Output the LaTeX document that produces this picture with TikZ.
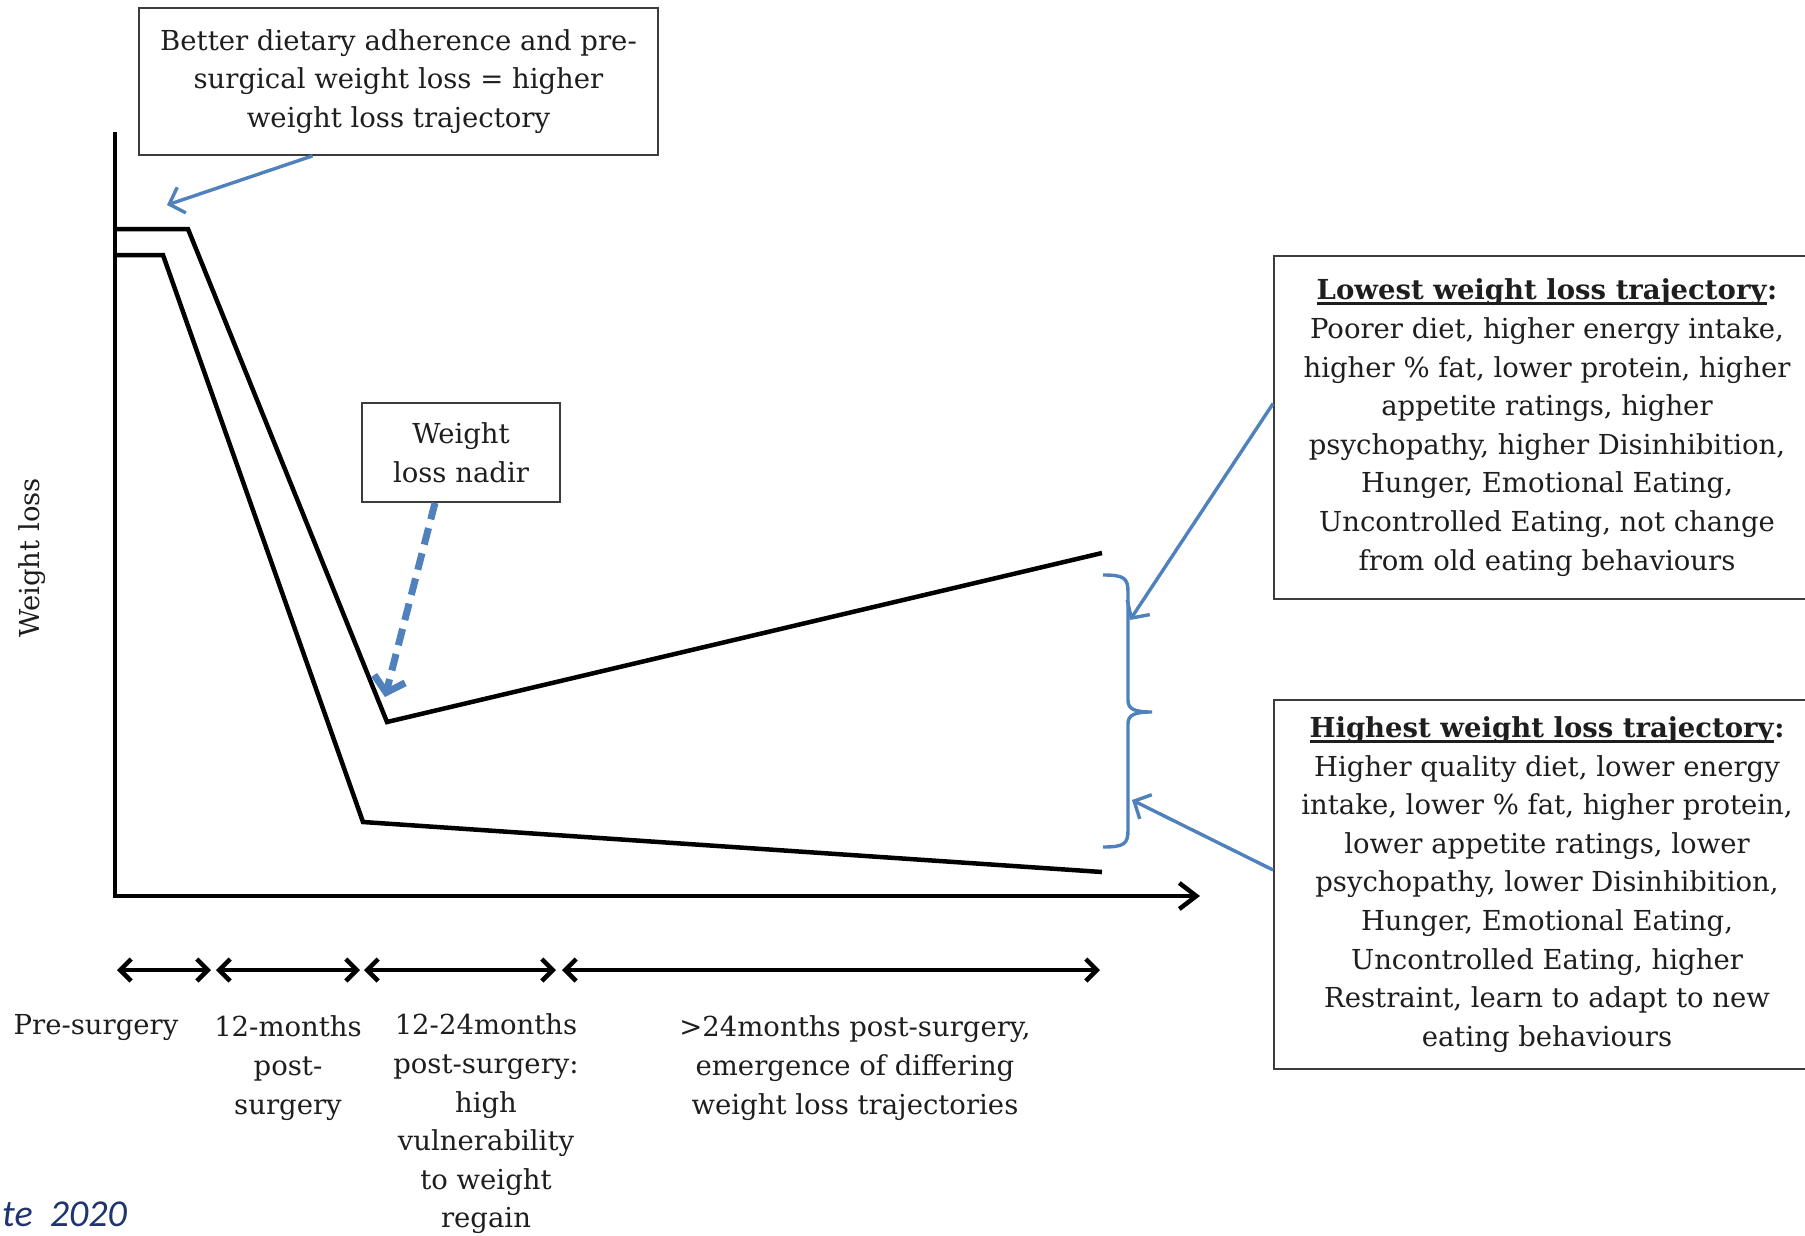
\documentclass[tikz,border=0pt]{standalone}
\usepackage{fontspec}
\setmainfont{DejaVu Serif}
\newfontfamily\citefont{Carlito}
\usetikzlibrary{arrows.meta,calc}
\definecolor{ablue}{HTML}{4F81BD}
\definecolor{txt}{HTML}{1E1E1E}
\definecolor{boxc}{HTML}{3C3C3C}
\definecolor{citec}{HTML}{1F3470}
\newsavebox{\hulbox}
\newcommand{\hul}[1]{\sbox{\hulbox}{#1}\rlap{\rule[-5pt]{\wd\hulbox}{2.4pt}}\usebox{\hulbox}}
\begin{document}
\begin{tikzpicture}[x=1pt,y=-1pt,
  lbl/.style={font=\fontsize{27.5}{38.6}\selectfont, align=center, inner sep=0pt, text=txt},
  tbox/.style={lbl, draw=boxc, line width=1.8pt},
  curve/.style={line width=4.5pt, line join=miter, black},
  barrow/.style={draw=ablue, line width=3.4pt, -{Straight Barb[length=13pt,width=27pt,line width=3.4pt]}},
  darrow/.style={line width=4pt, black, {Straight Barb[length=11pt,width=22pt,line width=4.5pt]}-{Straight Barb[length=11pt,width=22pt,line width=4.5pt]}}]
\useasboundingbox (0,0) rectangle (1805,1235);
\clip (0,0) rectangle (1805,1235);

% boxes
\node[tbox, minimum width=519pt, minimum height=147pt] (topbox) at (398.5,81.5)
  {Better dietary adherence and pre-\\surgical weight loss = higher\\weight loss trajectory};
\node[tbox, minimum width=198pt, minimum height=99pt] (nadir) at (461,452.5)
  {Weight\\loss nadir};
\node[tbox, minimum width=546pt, minimum height=343pt] (lowbox) at (1547,427.5)
  {\hul{\textbf{Lowest weight loss trajectory}}\textbf{:}\\Poorer diet, higher energy intake,\\higher \% fat, lower protein, higher\\appetite ratings, higher\\psychopathy, higher Disinhibition,\\Hunger, Emotional Eating,\\Uncontrolled Eating, not change\\from old eating behaviours};
\node[tbox, minimum width=546pt, minimum height=369pt] (highbox) at (1547,884.5)
  {\hul{\textbf{Highest weight loss trajectory}}\textbf{:}\\Higher quality diet, lower energy\\intake, lower \% fat, higher protein,\\lower appetite ratings, lower\\psychopathy, lower Disinhibition,\\Hunger, Emotional Eating,\\Uncontrolled Eating, higher\\Restraint, learn to adapt to new\\eating behaviours};

% axes
\coordinate (ytop) at (115,132);
\coordinate (orig) at (115,896);
\coordinate (xend) at (1200,896);
\draw[line width=4.5pt, line join=miter, -{Straight Barb[length=17pt,width=26pt,line width=4.5pt]}] (ytop) -- (orig) -- (xend);

% trajectories
\coordinate (u0) at (115,229);
\coordinate (u1) at (188,229);
\coordinate (u2) at (387,722);
\coordinate (u3) at (1102,553);
\coordinate (l0) at (115,255);
\coordinate (l1) at (163,255);
\coordinate (l2) at (363,822);
\coordinate (l3) at (1102,872);
\draw[curve] (u0) -- (u1) -- (u2) -- (u3);
\draw[curve] (l0) -- (l1) -- (l2) -- (l3);

% blue arrows
\coordinate (a1) at (167,205);
\draw[barrow] ([xshift=-86pt]topbox.south) -- (a1);
\coordinate (a2) at (385,697);
\draw[draw=ablue, line width=7pt, dash pattern=on 17pt off 9pt, -{Straight Barb[length=14pt,width=32pt,line width=7pt]}] ([xshift=-26pt]nadir.south) -- (a2);

% brace
\coordinate (bt) at (1103,575);
\coordinate (bm) at (1152,712);
\coordinate (bb) at (1103,847);
\draw[ablue, line width=3.4pt] (bt) .. controls (1124,575) and (1128,578) .. (1128,592) -- (1128,700)
  .. controls (1128,709) and (1134,712) .. (bm)
  .. controls (1134,712) and (1128,715) .. (1128,724) -- (1128,830)
  .. controls (1128,844) and (1124,847) .. (bb);
\coordinate (a3) at (1130,620);
\coordinate (a4) at (1132,800);
\draw[barrow] ([yshift=24pt]lowbox.west) -- (a3);
\draw[barrow] ([yshift=14.5pt]highbox.west) -- (a4);

% time-period arrows
\coordinate (t0) at (117,970);
\coordinate (t1) at (211,970);
\coordinate (t2) at (216,970);
\coordinate (t3) at (360,970);
\coordinate (t4) at (364,970);
\coordinate (t5) at (556,970);
\coordinate (t6) at (562,970);
\coordinate (t7) at (1100,970);
\draw[darrow] (t0) -- (t1);
\draw[darrow] (t2) -- (t3);
\draw[darrow] (t4) -- (t5);
\draw[darrow] (t6) -- (t7);

% period labels
\node[lbl] (p1) at (96,1028) {Pre-surgery};
\node[lbl] (p2) at (288,1068) {12-months\\post-\\surgery};
\node[lbl] (p3) at (486,1124) {12-24months\\post-surgery:\\high\\vulnerability\\to weight\\regain};
\node[lbl] (p4) at (855,1068) {>24months post-surgery,\\emergence of differing\\weight loss trajectories};

% y label
\node[lbl, rotate=90] (ylab) at (32,558) {Weight loss};

% citation fragment
\node[anchor=base west, inner sep=0pt, text=citec, font=\citefont\itshape\fontsize{38}{40}\selectfont] (cite) at (2,1226) {te\hspace{0.45em}2020};
\end{tikzpicture}
\end{document}
